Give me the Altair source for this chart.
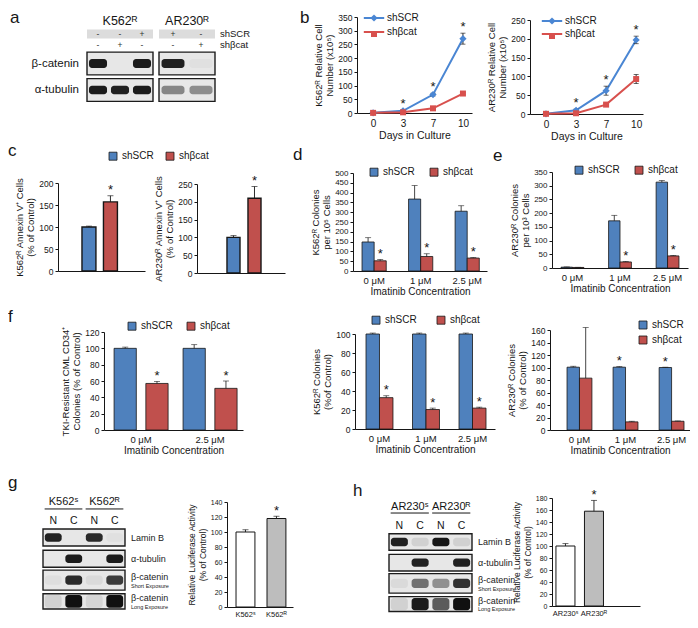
import altair as alt
import pandas as pd

FONT = "Liberation Sans"
INK = "#161616"
BLUE = "#4F81BD"
RED = "#C0504D"
LINE_BLUE = "#4A86D3"
LINE_RED = "#D8504D"
GRAY_BAR = "#BDBDBD"
BLOT_FILL = "#e7e7e7"
BLOT_EDGE = "#1c1c1c"
BAND_INK = "#101010"
SERIES = ["shSCR", "shβcat"]
# legend / marker glyphs defined in the unit box used by Vega symbols
LINE_GLYPH = "M-1.7,0H1.7"
MARKER_GLYPHS = ["M0,-0.6L0.6,0L0,0.6L-0.6,0Z", "M-0.5,-0.5H0.5V0.5H-0.5Z"]

# ---------------- data ----------------
# a: knock-down western blot
blot_a_proteins = ["β-catenin", "α-tubulin"]
blot_a_k562_shscr = ["-", "-", "+"]
blot_a_k562_shcat = ["-", "+", "-"]
blot_a_ar230_shscr = ["+", "-"]
blot_a_ar230_shcat = ["-", "+"]
blot_a_k562_bands = [[0.95, 0.0, 0.95], [0.95, 0.93, 0.95]]
blot_a_ar230_bands = [[0.92, 0.03], [0.45, 0.42]]

# b: growth curves
days = [0, 3, 7, 10]
k562_scr = [0.5, 8, 67, 271]
k562_scr_err = [0.5, 2, 5, 20]
k562_cat = [0.5, 2.5, 17, 71]
k562_cat_err = [0.3, 1, 2, 3]
k562_growth_sig = ["", "*", "*", "*"]
ar230_scr = [0.5, 10, 62, 197]
ar230_scr_err = [0.3, 3, 12, 10]
ar230_cat = [0.5, 2, 25, 93]
ar230_cat_err = [0.2, 1, 3, 12]
ar230_growth_sig = ["", "*", "*", "*"]

# c: annexin V
annexin_k562 = [100, 157]
annexin_k562_err = [2, 14]
annexin_k562_sig = ["", "*"]
annexin_ar230 = [100, 210]
annexin_ar230_err = [5, 33]
annexin_ar230_sig = ["", "*"]

# d, e: colonies
imatinib3 = ["0 μM", "1 μM", "2.5 μM"]
imatinib2 = ["0 μM", "2.5 μM"]
k562_col_scr = [148, 367, 305]
k562_col_scr_err = [22, 69, 28]
k562_col_cat = [52, 74, 66]
k562_col_cat_err = [7, 14, 3]
k562_col_sig_scr = ["", "", ""]
k562_col_sig_cat = ["*", "*", "*"]
ar230_col_scr = [3, 172, 313]
ar230_col_scr_err = [1, 20, 6]
ar230_col_cat = [2, 22, 44]
ar230_col_cat_err = [0.5, 2, 2]
ar230_col_sig_scr = ["", "", ""]
ar230_col_sig_cat = ["", "*", "*"]

# f: colonies, % of control
cd34_scr = [100, 100]
cd34_scr_err = [1.5, 4.5]
cd34_cat = [57, 51]
cd34_cat_err = [2.5, 9]
cd34_sig_scr = ["", ""]
cd34_sig_cat = ["*", "*"]
k562_pct_scr = [100, 100, 100]
k562_pct_scr_err = [1, 1, 1]
k562_pct_cat = [33, 20.5, 22]
k562_pct_cat_err = [2, 1.5, 1]
k562_pct_sig_scr = ["", "", ""]
k562_pct_sig_cat = ["*", "*", "*"]
ar230_pct_scr = [100.5, 100.5, 100]
ar230_pct_scr_err = [1.5, 1, 0.5]
ar230_pct_cat = [83, 13, 14]
ar230_pct_cat_err = [81, 1, 0.5]
ar230_pct_sig_scr = ["", "*", "*"]
ar230_pct_sig_cat = ["", "", ""]

# g, h: fractionation blots and luciferase
frac_lanes = ["N", "C", "N", "C"]
frac_proteins = ["Lamin B", "α-tubulin", "β-catenin", "β-catenin"]
frac_notes = ["", "", "Short Exposure", "Long Exposure"]
g_groups = ["K562ˢ", "K562ᴿ"]
h_groups = ["AR230ˢ", "AR230ᴿ"]
g_bands = [[0.92, 0.0, 0.88, 0.03], [0.0, 0.95, 0.0, 0.95],
           [0.04, 0.88, 0.06, 0.8], [0.1, 1.0, 0.08, 1.0]]
h_bands = [[0.92, 0.1, 0.97, 0.1], [0.0, 0.92, 0.0, 0.92],
           [0.06, 0.55, 0.4, 0.85], [0.1, 0.95, 0.65, 1.0]]
luc_g_values = [100, 118]
luc_g_err = [3, 3]
luc_g_sig = ["", "*"]
luc_h_values = [100, 158]
luc_h_err = [4, 18]
luc_h_sig = ["", "*"]

# ---------------- helpers ----------------
RES = dict(color="independent", fill="independent", stroke="independent",
           shape="independent", opacity="independent", xOffset="independent")


def letter_layer(text, x, y):
    """Panel letter (annotation, placed in pixels relative to the panel)."""
    return alt.Chart(pd.DataFrame({"t": [text]})).mark_text(
        fontSize=17, align="left", baseline="alphabetic", font=FONT, color=INK).encode(
        text="t:N", x=alt.value(x), y=alt.value(y))


def finish(layers, width, height, letter):
    if letter is not None:
        layers = list(layers) + [letter_layer(*letter)]
    return alt.layer(*layers).properties(width=width, height=height)


def y_enc(field, y_max, step, top, height, title, label_size=8.5, title_size=9.5):
    return alt.Y(field, title=title,
                 scale=alt.Scale(domain=[0, y_max], range=[height, top], nice=False, zero=True),
                 axis=alt.Axis(values=list(range(0, y_max + 1, step)), tickSize=3,
                               labelFontSize=label_size, titleFontSize=title_size,
                               titlePadding=3, labelPadding=2, titleLineHeight=11))


def sq_legend(lx, ly, direction="horizontal", col_pad=12):
    return alt.Legend(orient="none", legendX=lx, legendY=ly, direction=direction, title=None,
                      symbolType="square", symbolSize=64, symbolStrokeColor=INK,
                      symbolStrokeWidth=0.8, labelFontSize=10, labelFont=FONT,
                      labelOffset=4, columnPadding=col_pad, rowPadding=3)


def spacer(width, height, letter):
    return alt.layer(letter_layer(*letter)).properties(width=width, height=height)


def growth_panel(scr, scr_err, cat, cat_err, sig, *, width, height, x_len, x_pad, x_align,
                 y_max, y_top, y_title, lx, ly, row_pad=2, letter=None):
    recs = []
    for i, d in enumerate(days):
        recs.append(dict(day=d, series=SERIES[0], value=scr[i], err=scr_err[i], sig=sig[i]))
        recs.append(dict(day=d, series=SERIES[1], value=cat[i], err=cat_err[i], sig=""))
    df = pd.DataFrame(recs)
    # marker key: same groups, distinct key so the marker legend is kept apart from the line legend
    markers = [s + " " for s in SERIES]
    df["marker"] = df["series"] + " "
    df["lo"] = (df["value"] - df["err"]).clip(lower=0)
    df["hi"] = df["value"] + df["err"]
    x = alt.X("day:O", sort=days, title="Days in Culture",
              scale=alt.Scale(type="point", range=[0, x_len], padding=x_pad, align=x_align),
              axis=alt.Axis(labelAngle=0, ticks=False, labelFontSize=10, titleFontSize=10.5,
                            labelPadding=5, titlePadding=2))

    def Y(f):
        return y_enc(f, y_max, 50, y_top, height, y_title, label_size=8.5)

    base = alt.Chart(df)
    line = base.mark_line(strokeWidth=2).encode(
        x=x, y=Y("value:Q"),
        stroke=alt.Stroke("series:N", sort=SERIES,
                          scale=alt.Scale(domain=SERIES, range=[LINE_BLUE, LINE_RED]),
                          legend=alt.Legend(orient="none", legendX=lx, legendY=ly, title=None,
                                            symbolType=LINE_GLYPH, symbolSize=144,
                                            symbolStrokeWidth=2, labelFontSize=10,
                                            labelOffset=6, rowPadding=row_pad)))
    pleg = alt.Legend(orient="none", legendX=lx, legendY=ly, title=None, symbolSize=144,
                      labelFontSize=10, labelOffset=6, rowPadding=row_pad, labelExpr="''")
    pts = base.mark_point(filled=True, size=144, opacity=1).encode(
        x=x, y=Y("value:Q"),
        fill=alt.Fill("marker:N", sort=markers,
                      scale=alt.Scale(domain=markers, range=[LINE_BLUE, LINE_RED]), legend=pleg),
        shape=alt.Shape("marker:N", sort=markers,
                        scale=alt.Scale(domain=markers, range=MARKER_GLYPHS), legend=pleg))
    err = base.mark_rule(color=INK, strokeWidth=0.9).encode(x=x, y=Y("lo:Q"), y2="hi:Q")
    cap_hi = base.mark_tick(color=INK, thickness=0.9, size=5).encode(x=x, y=Y("hi:Q"))
    cap_lo = base.mark_tick(color=INK, thickness=0.9, size=5).encode(x=x, y=Y("lo:Q"))
    star = base.transform_filter("datum.sig == '*'").mark_text(
        fontSize=13, baseline="alphabetic", dy=-2, color=INK).encode(
        x=x, y=Y("hi:Q"), text="sig:N")
    return finish([line, err, cap_hi, cap_lo, pts, star], width, height, letter)


def grouped_panel(groups, scr, scr_err, cat, cat_err, sig_scr, sig_cat, *, width, height,
                  x_len, pad_in, pad_out, x_align, off_pad, y_max, y_step, y_top, y_title,
                  legend, letter=None, label_size=8.5):
    recs = []
    for i, g in enumerate(groups):
        recs.append(dict(group=g, series=SERIES[0], value=scr[i], err=scr_err[i], sig=sig_scr[i]))
        recs.append(dict(group=g, series=SERIES[1], value=cat[i], err=cat_err[i], sig=sig_cat[i]))
    df = pd.DataFrame(recs)
    df["top"] = df["value"] + df["err"]
    x = alt.X("group:N", sort=groups, title="Imatinib Concentration",
              scale=alt.Scale(range=[0, x_len], paddingInner=pad_in, paddingOuter=pad_out,
                              align=x_align),
              axis=alt.Axis(labelAngle=0, ticks=False, labelFontSize=9.5, titleFontSize=10,
                            labelPadding=4, titlePadding=2))
    xo = alt.XOffset("series:N", sort=SERIES, scale=alt.Scale(paddingInner=off_pad, paddingOuter=0))

    def Y(f):
        return y_enc(f, y_max, y_step, y_top, height, y_title, label_size=label_size)

    color = alt.Color("series:N", sort=SERIES, scale=alt.Scale(domain=SERIES, range=[BLUE, RED]),
                      legend=legend)
    base = alt.Chart(df)
    bars = base.mark_bar(stroke=INK, strokeWidth=0.8).encode(x=x, xOffset=xo, y=Y("value:Q"),
                                                            color=color)
    err = base.mark_rule(color=INK, strokeWidth=0.8).encode(x=x, xOffset=xo, y=Y("value:Q"),
                                                           y2="top:Q")
    cap = base.mark_tick(color=INK, thickness=0.8, size=6).encode(x=x, xOffset=xo, y=Y("top:Q"))
    star = base.transform_filter("datum.sig == '*'").mark_text(
        fontSize=13, baseline="alphabetic", dy=-1.5, color=INK).encode(
        x=x, xOffset=xo, y=Y("top:Q"), text="sig:N")
    return finish([bars, err, cap, star], width, height, letter)


def pair_panel(cats, values, errs, sigs, colors, *, width, height, x_len, pad_in, pad_out,
               x_align, y_max, y_step, y_top, y_title, legend=None, letter=None,
               show_labels=False, label_size=8.5, title_size=9.5, stroke_w=1.4,
               blanks=(0, 0)):
    df = pd.DataFrame(dict(cat=cats, value=values, err=errs, sig=sigs))
    df["top"] = df["value"] + df["err"]
    # empty slots on the band scale reproduce the wide outer margins of the figure
    before = [" " * (i + 1) for i in range(blanks[0])]
    after = [" " * (blanks[0] + i + 1) for i in range(blanks[1])]
    x = alt.X("cat:N", title=None,
              scale=alt.Scale(domain=before + list(cats) + after, range=[0, x_len],
                              paddingInner=pad_in, paddingOuter=pad_out, align=x_align),
              axis=alt.Axis(labelAngle=0, ticks=False, labels=show_labels, labelFontSize=7.5,
                            labelPadding=3))

    def Y(f):
        return y_enc(f, y_max, y_step, y_top, height, y_title, label_size=label_size,
                     title_size=title_size)

    color = alt.Color("cat:N", sort=list(cats), scale=alt.Scale(domain=list(cats), range=colors),
                      legend=legend)
    base = alt.Chart(df)
    bars = base.mark_bar(stroke=INK, strokeWidth=stroke_w).encode(x=x, y=Y("value:Q"), color=color)
    err = base.mark_rule(color=INK, strokeWidth=0.9).encode(x=x, y=Y("value:Q"), y2="top:Q")
    cap = base.mark_tick(color=INK, thickness=0.9, size=6).encode(x=x, y=Y("top:Q"))
    star = base.transform_filter("datum.sig == '*'").mark_text(
        fontSize=13, baseline="alphabetic", dy=-1.5, color=INK).encode(
        x=x, y=Y("top:Q"), text="sig:N")
    return finish([bars, err, cap, star], width, height, letter)


def gel_layers(bands, band_half, box_half, X, Y):
    n = len(bands[0])
    box = pd.DataFrame({"row": list(range(1, len(bands) + 1)), "half": box_half})
    box["x1"] = 0.5
    box["x2"] = n + 0.5
    boxes = alt.Chart(box).transform_calculate(
        y1="datum.row - datum.half", y2="datum.row + datum.half").mark_rect(
        fill=BLOT_FILL, stroke=BLOT_EDGE, strokeWidth=1.4).encode(
        x=X("x1:Q"), x2="x2:Q", y=Y("y1:Q"), y2="y2:Q")
    recs = []
    for r, row in enumerate(bands):
        for l, v in enumerate(row):
            recs.append(dict(lane=l + 1, row=r + 1, intensity=v, half=band_half[r]))
    bdf = pd.DataFrame(recs)
    band = alt.Chart(bdf).transform_calculate(
        x1="datum.lane - 0.41", x2="datum.lane + 0.41",
        y1="datum.row - datum.half", y2="datum.row + datum.half").mark_rect(
        fill=BAND_INK, cornerRadius=3).encode(
        x=X("x1:Q"), x2="x2:Q", y=Y("y1:Q"), y2="y2:Q",
        opacity=alt.Opacity("intensity:Q", scale=None))
    return [boxes, band]


# ---- blot a ----
A_ROW = {"header": -0.6, "scr": -0.113, "cat": 0.302}


def blot_a(gel_name, scr_signs, cat_signs, bands, x_range, *, width, height,
           row_labels=False, side_labels=False, letter=None):
    n = len(scr_signs)
    xs = alt.Scale(domain=[0.5, n + 0.5], range=x_range, nice=False, zero=False)
    ys = alt.Scale(domain=[0, 3], range=[28, 107.5], nice=False, zero=False)

    def X(f):
        return alt.X(f, scale=xs, axis=None)

    def Y(f):
        return alt.Y(f, scale=ys, axis=None)

    hl = pd.DataFrame({"x1": [0.5], "x2": [n + 0.5],
                       "y1": [A_ROW["scr"] - 0.17], "y2": [A_ROW["scr"] + 0.17]})
    layers = [alt.Chart(hl).mark_rect(fill="#dcdcdc").encode(
        x=X("x1:Q"), x2="x2:Q", y=Y("y1:Q"), y2="y2:Q")]
    layers += gel_layers(bands, [0.17, 0.16], [0.43, 0.43], X, Y)
    head = pd.DataFrame({"label": [gel_name], "x": [(1 + n) / 2], "y": [A_ROW["header"]]})
    layers.append(alt.Chart(head).mark_text(fontSize=12.5, baseline="middle").encode(
        x=X("x:Q"), y=Y("y:Q"), text="label:N"))
    signs = pd.DataFrame({"lane": list(range(1, n + 1)) * 2,
                          "sign": scr_signs + cat_signs,
                          "y": [A_ROW["scr"]] * n + [A_ROW["cat"]] * n})
    layers.append(alt.Chart(signs).mark_text(fontSize=8.5, baseline="middle", color="#333").encode(
        x=X("lane:Q"), y=Y("y:Q"), text="sign:N"))
    if row_labels:
        rl = pd.DataFrame({"label": blot_a_proteins, "row": [1, 2], "x": [0.5, 0.5]})
        layers.append(alt.Chart(rl).mark_text(fontSize=11.5, align="right", baseline="middle",
                                              dx=-8).encode(x=X("x:Q"), y=Y("row:Q"),
                                                            text="label:N"))
    if side_labels:
        sl = pd.DataFrame({"label": SERIES, "y": [A_ROW["scr"], A_ROW["cat"]],
                           "x": [n + 0.5, n + 0.5]})
        layers.append(alt.Chart(sl).mark_text(fontSize=9.5, align="left", baseline="middle",
                                              dx=5).encode(x=X("x:Q"), y=Y("y:Q"),
                                                           text="label:N"))
    return finish(layers, width, height, letter)


def blot_frac(groups, bands, x_range, y_range, rows, *, width, height, letter):
    xs = alt.Scale(domain=[0.5, 4.5], range=x_range, nice=False, zero=False)
    ys = alt.Scale(domain=[0, 5], range=y_range, nice=False, zero=False)

    def X(f):
        return alt.X(f, scale=xs, axis=None)

    def Y(f):
        return alt.Y(f, scale=ys, axis=None)

    layers = gel_layers(bands, [0.2, 0.2, 0.22, 0.3], [0.4, 0.4, 0.47, 0.36], X, Y)
    hd = pd.DataFrame({"label": groups, "first": [1, 3], "last": [2, 4]})
    head = alt.Chart(hd).transform_calculate(
        xc="(datum.first + datum.last) / 2", x1="datum.first - 0.42",
        x2="datum.last + 0.42", yh=str(rows["header"]), yr=str(rows["rule"]))
    layers.append(head.mark_text(fontSize=11, baseline="middle").encode(
        x=X("xc:Q"), y=Y("yh:Q"), text="label:N"))
    layers.append(head.mark_rule(color=INK, strokeWidth=1).encode(
        x=X("x1:Q"), x2="x2:Q", y=Y("yr:Q")))
    ln = pd.DataFrame({"lane": [1, 2, 3, 4], "label": frac_lanes, "y": [rows["lanes"]] * 4})
    layers.append(alt.Chart(ln).mark_text(fontSize=10.5, baseline="middle").encode(
        x=X("lane:Q"), y=Y("y:Q"), text="label:N"))
    pl = pd.DataFrame({"label": frac_proteins, "note": frac_notes, "row": [1, 2, 3, 4]})
    pl["x"] = 4.5
    pl["ym"] = [r - (0.16 if n else 0) for r, n in zip(pl["row"], pl["note"])]
    pl["yn"] = pl["row"] + 0.26
    pch = alt.Chart(pl)
    layers.append(pch.mark_text(fontSize=9, align="left", baseline="middle", dx=6, color="#222").encode(
        x=X("x:Q"), y=Y("ym:Q"), text="label:N"))
    layers.append(pch.transform_filter("datum.note != ''").mark_text(
        fontSize=5.5, align="left", baseline="middle", dx=6, color="#222").encode(
        x=X("x:Q"), y=Y("yn:Q"), text="note:N"))
    return finish(layers, width, height, letter)


# ---------------- panels ----------------
# Row 1 (top at page y=8)
gel_a_k = blot_a("K562ᴿ", blot_a_k562_shscr, blot_a_k562_shcat, blot_a_k562_bands, [79, 145],
                 width=147, height=131, row_labels=True, letter=("a", 2, 13.5))
gel_a_ar = blot_a("AR230ᴿ", blot_a_ar230_shscr, blot_a_ar230_shcat, blot_a_ar230_bands, [4, 60],
                  width=202, height=131, side_labels=True)
b1 = growth_panel(k562_scr, k562_scr_err, k562_cat, k562_cat_err, k562_growth_sig,
                  width=173, height=104, x_len=115, x_pad=0.42, x_align=0.64, y_max=350, y_top=8,
                  y_title=["K562ᴿ Relative Cell", "Number (x10⁵)"], lx=10, ly=2,
                  letter=("b", -57, 13.5))
b2 = growth_panel(ar230_scr, ar230_scr_err, ar230_cat, ar230_cat_err, ar230_growth_sig,
                  width=160, height=105, x_len=113, x_pad=0.38, x_align=0.7, y_max=250, y_top=11,
                  y_title=["AR230ᴿ Relative Cell", "Number (x10⁵)"], lx=15, ly=5, row_pad=1)

# Row 2 (top at page y=139)
c1 = pair_panel(SERIES, annexin_k562, annexin_k562_err, annexin_k562_sig, [BLUE, RED],
                width=139, height=128, x_len=87, pad_in=0.35, pad_out=0.2, x_align=0.29,
                y_max=200, y_step=50, y_top=40, blanks=(1, 1),
                y_title=["K562ᴿ Annexin V⁺ Cells", "(% of Control)"],
                legend=sq_legend(50, 8, col_pad=10))
c2 = pair_panel(SERIES, annexin_ar230, annexin_ar230_err, annexin_ar230_sig, [BLUE, RED],
                width=156, height=130, x_len=88, pad_in=0.38, pad_out=0.285, x_align=0.75,
                y_max=250, y_step=50, y_top=41, blanks=(1, 1),
                y_title=["AR230ᴿ Annexin V⁺ Cells", "(% of Control)"], legend=None)
d = grouped_panel(imatinib3, k562_col_scr, k562_col_scr_err, k562_col_cat, k562_col_cat_err,
                  k562_col_sig_scr, k562_col_sig_cat, width=199, height=128, x_len=134,
                  pad_in=0.48, pad_out=0.18, x_align=0.54, off_pad=0, y_max=500, y_step=50,
                  y_top=30, y_title=["K562ᴿ Colonies", "per 10⁵ Cells"],
                  legend=sq_legend(16, 24, col_pad=13), letter=("d", -60, 17), label_size=8)
e = grouped_panel(imatinib3, ar230_col_scr, ar230_col_scr_err, ar230_col_cat, ar230_col_cat_err,
                  ar230_col_sig_scr, ar230_col_sig_cat, width=136, height=125, x_len=136,
                  pad_in=0.52, pad_out=0.19, x_align=0.5, off_pad=0, y_max=350, y_step=50,
                  y_top=29, y_title=["AR230ᴿ Colonies", "per 10³ Cells"],
                  legend=sq_legend(22, 22, col_pad=13), letter=("e", -59, 18), label_size=8)

# Row 3 (top at page y=302)
f1 = grouped_panel(imatinib2, cd34_scr, cd34_scr_err, cd34_cat, cd34_cat_err, cd34_sig_scr,
                   cd34_sig_cat, width=251, height=124, x_len=139, pad_in=0.217, pad_out=0.116,
                   x_align=0.63, off_pad=0.3, y_max=120, y_step=20, y_top=26,
                   y_title=["TKI-Resistant CML CD34⁺", "Colonies (% of Control)"],
                   legend=sq_legend(23, 15, col_pad=12))
f2 = grouped_panel(imatinib3, k562_pct_scr, k562_pct_scr_err, k562_pct_cat, k562_pct_cat_err,
                   k562_pct_sig_scr, k562_pct_sig_cat, width=195, height=123, x_len=140,
                   pad_in=0.42, pad_out=0.215, x_align=0.55, off_pad=0, y_max=100, y_step=20,
                   y_top=28, y_title=["K562ᴿ Colonies", "(%of Control)"],
                   legend=sq_legend(16, 9, col_pad=18))
f3 = grouped_panel(imatinib3, ar230_pct_scr, ar230_pct_scr_err, ar230_pct_cat, ar230_pct_cat_err,
                   ar230_pct_sig_scr, ar230_pct_sig_cat, width=140, height=124, x_len=140,
                   pad_in=0.46, pad_out=0.25, x_align=0.74, off_pad=0, y_max=160, y_step=20,
                   y_top=24, y_title=["AR230ᴿ Colonies", "(% of Control)"],
                   legend=sq_legend(88, 14, direction="vertical"))

# Row 4 (top at page y=466)
gel_g = blot_frac(g_groups, g_bands, [35, 117], [46.2, 152.7],
                  {"header": -0.67, "rule": -0.34, "lanes": 0.225},
                  width=219, height=139, letter=("g", 0, 18))
g_bar = pair_panel(g_groups, luc_g_values, luc_g_err, luc_g_sig, ["white", GRAY_BAR],
                   width=128, height=137, x_len=66, pad_in=0.39, pad_out=0.26, x_align=0.56,
                   y_max=140, y_step=20, y_top=32,
                   y_title=["Relative Luciferase Activity", "(% of Control)"],
                   show_labels=True, label_size=7, title_size=8.5, stroke_w=1)
gel_h = blot_frac(h_groups, h_bands, [34, 117], [51.3, 154.8],
                  {"header": -0.69, "rule": -0.40, "lanes": 0.227},
                  width=197, height=139, letter=("h", -2, 26))
h_bar = pair_panel(h_groups, luc_h_values, luc_h_err, luc_h_sig, ["white", GRAY_BAR],
                   width=100, height=136, x_len=88, pad_in=0.333, pad_out=0.21, x_align=0.33,
                   y_max=180, y_step=20, y_top=28, blanks=(0, 1),
                   y_title=["Relative Luciferase Activity", "(% of Control)"],
                   show_labels=True, label_size=7, title_size=8.5, stroke_w=1)

row1 = alt.hconcat(gel_a_k, gel_a_ar, b1, b2, spacing=0, bounds="flush").resolve_scale(**RES)
row2 = alt.hconcat(spacer(50, 163, ("c", 0, 13)), c1, c2, d, e,
                   spacing=0, bounds="flush").resolve_scale(**RES)
row3 = alt.hconcat(spacer(96, 164, ("f", 0, 16)), f1, f2, f3,
                   spacing=0, bounds="flush").resolve_scale(**RES)
row4 = alt.hconcat(gel_g, g_bar, gel_h, h_bar, spacing=0, bounds="flush").resolve_scale(**RES)

chart = alt.vconcat(row1, row2, row3, row4, spacing=0).resolve_scale(**RES).properties(
    padding=0
).configure(font=FONT).configure_view(stroke=None).configure_axis(
    grid=False, domainColor=INK, tickColor=INK, labelColor=INK, titleColor=INK,
    labelFont=FONT, titleFont=FONT, titleFontWeight="normal", domainWidth=1, tickWidth=1
).configure_legend(labelFont=FONT, labelColor=INK).configure_text(font=FONT, color=INK
).configure_title(font=FONT, fontWeight="normal", color=INK)

chart.save("out.html", embed_options={"renderer": "svg", "actions": False})
